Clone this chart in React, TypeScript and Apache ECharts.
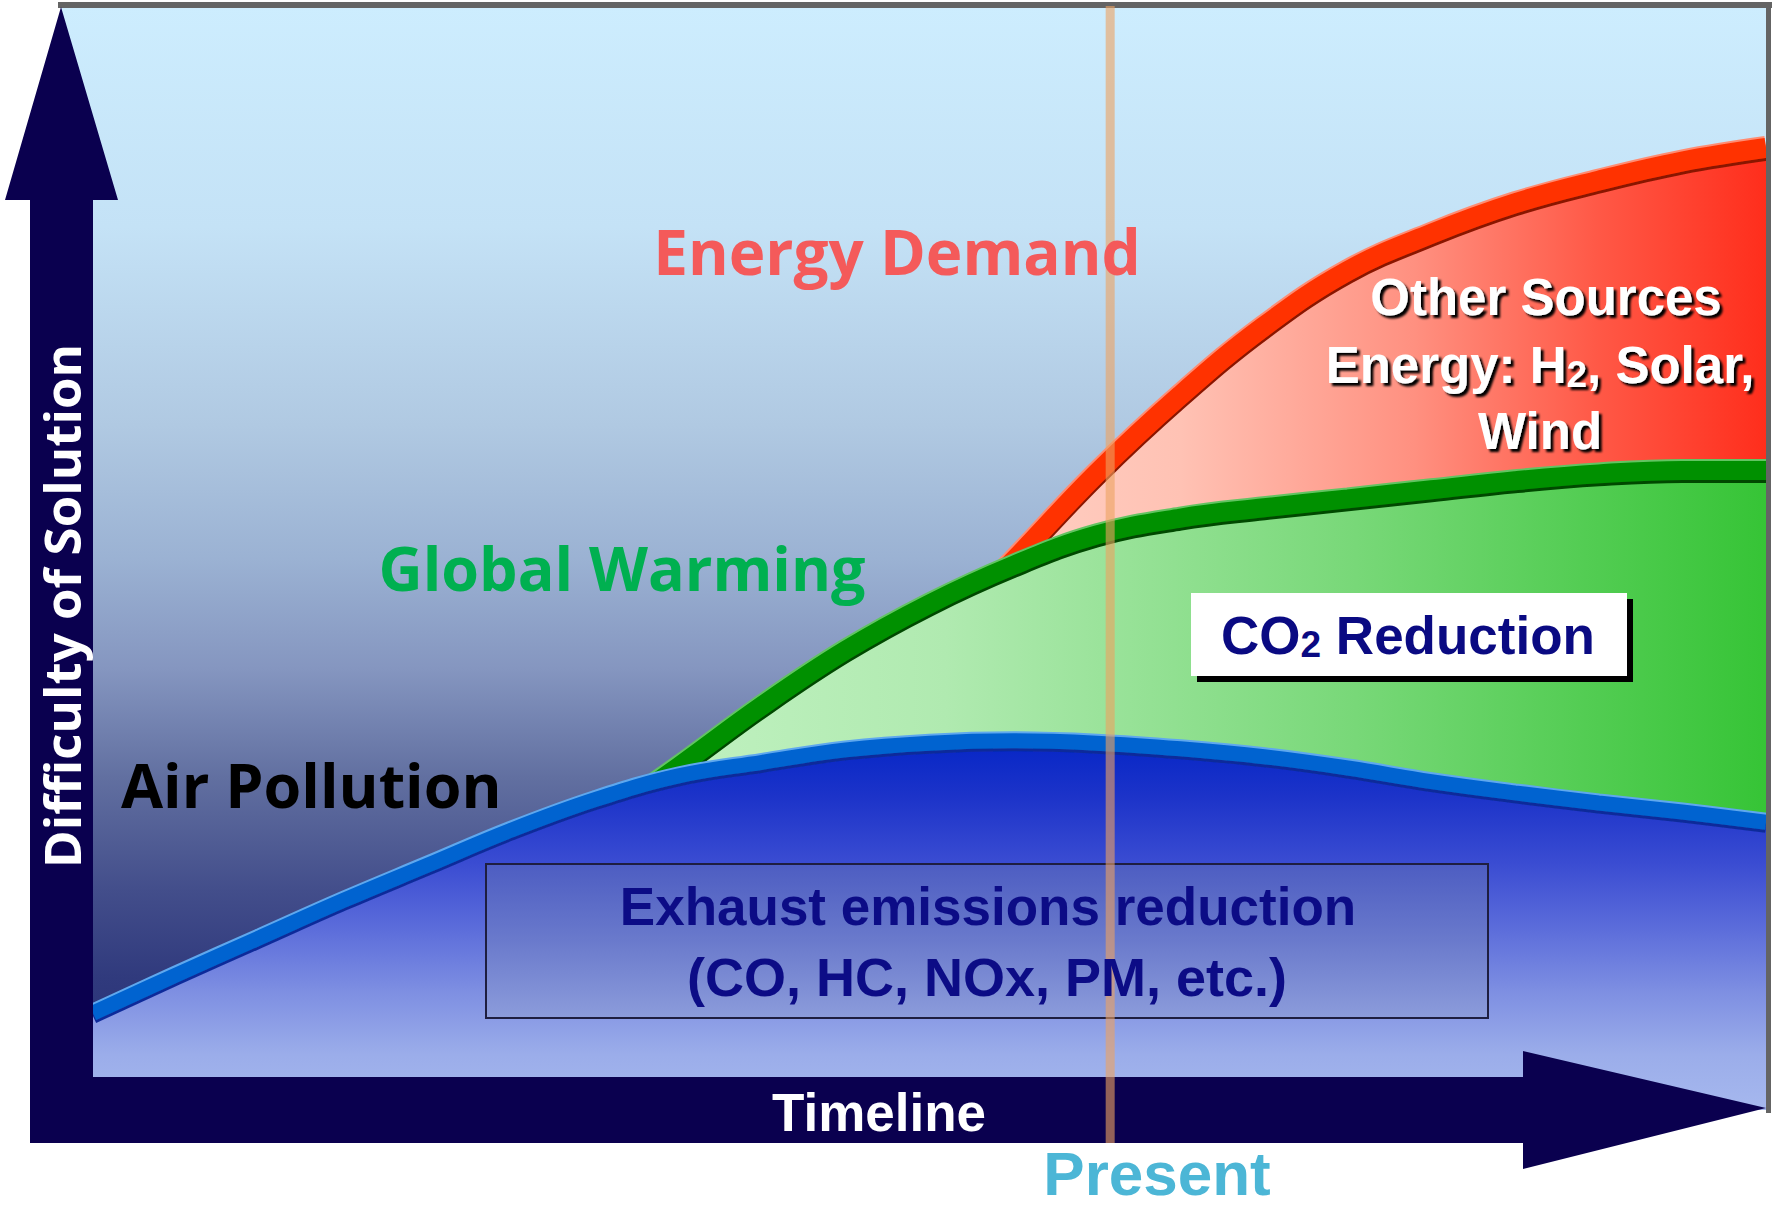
import React, { useEffect, useRef } from "react";
import * as echarts from "echarts";

// ---- data (timeline position 0..100, difficulty 0..100) ----
const airTimeline = [0, 5, 10, 15, 20, 25, 30, 35, 40, 45, 50, 55, 60, 65, 70, 75, 80, 85, 90, 95, 100];
const airPollution = [8.77, 12.25, 15.63, 19.0, 22.18, 25.35, 28.11, 30.26, 31.49, 32.62, 33.23, 33.44, 33.23, 32.72, 32.0, 30.98, 29.75, 28.73, 27.81, 26.99, 26.07];

const warmingTimeline = [30, 35, 40, 45, 50, 55, 60, 65, 70, 75, 80, 85, 90, 95, 100];
const globalWarming = [25.8, 31.1, 36.63, 41.65, 45.84, 49.32, 52.09, 53.62, 54.55, 55.36, 56.18, 57.0, 57.62, 57.93, 57.93];

const energyTimeline = [50, 55, 60, 65, 70, 75, 80, 85, 90, 95, 100];
const energyDemand = [42.0, 49.7, 57.67, 64.74, 70.98, 76.0, 79.37, 82.13, 84.18, 85.92, 87.15];

const presentT = 60.8;

const labels = {
  energy: "Energy Demand",
  warming: "Global Warming",
  air: "Air Pollution",
  yAxis: "Difficulty of Solution",
  xAxis: "Timeline",
  present: "Present",
  other1: "Other Sources",
  other2: "{a|Energy: H}{b|2}{a|, Solar,}",
  other3: "Wind",
  co2: "{a|CO}{b|2}{a| Reduction}",
  exhaust1: "Exhaust emissions reduction",
  exhaust2: "(CO, HC, NOx, PM, etc.)",
};

const OPEN = "'Open Sans', 'DejaVu Sans', sans-serif";
const ARIAL = "'Liberation Sans', Arial, sans-serif";
const NAVY = "#0a004f";

function pairs(xs: number[], ys: number[]) {
  return xs.map((x, i) => [x, ys[i]]);
}

function bandSeries(
  name: string,
  data: number[][],
  edge: string,
  band: string,
  dark: string,
  width: number,
  fill: any,
  z: number
) {
  return [
    {
      type: "line",
      name: name + " edge",
      data,
      smooth: 0.4,
      symbol: "none",
      silent: true,
      lineStyle: { width: width + 4, color: edge },
      z,
    },
    {
      type: "line",
      name,
      data,
      smooth: 0.4,
      symbol: "none",
      silent: true,
      lineStyle: { width, color: band, shadowColor: dark, shadowOffsetY: 3, shadowBlur: 0 },
      areaStyle: { color: fill, opacity: 1 },
      z: z + 1,
    },
  ];
}

function txt(id: string, x: number, y: number, text: string, size: number, family: string, fill: string, extra: any = {}) {
  return {
    id,
    type: "text",
    x,
    y,
    z: 30,
    rotation: extra.rotation || 0,
    style: {
      text,
      fill,
      fontSize: size,
      fontWeight: "bold",
      fontFamily: family,
      textAlign: extra.align || "center",
      align: extra.align || "center",
      textVerticalAlign: "middle",
      verticalAlign: "middle",
      ...(extra.style || {}),
    },
  };
}

export default function App() {
  const ref = useRef<HTMLDivElement>(null);

  useEffect(() => {
    if (!ref.current) return;
    const chart = echarts.init(ref.current, undefined, { renderer: "svg" });
    const G = echarts.graphic.LinearGradient;

    const redFill = new G(0, 0, 1, 0, [
      { offset: 0, color: "#ffd4c8" },
      { offset: 0.3, color: "#ffc2b4" },
      { offset: 0.58, color: "#ff9080" },
      { offset: 0.8, color: "#ff5846" },
      { offset: 1, color: "#ff2e1c" },
    ]);
    const greenFill = new G(0, 0, 1, 0, [
      { offset: 0, color: "#c4f3c4" },
      { offset: 0.3, color: "#b0eab0" },
      { offset: 0.65, color: "#78d878" },
      { offset: 1, color: "#36c436" },
    ]);
    const blueFill = new G(0, 0, 0, 1, [
      { offset: 0, color: "#0626c6" },
      { offset: 0.15, color: "#1c33c9" },
      { offset: 0.33, color: "#3a4cd2" },
      { offset: 0.5, color: "#5a6bda" },
      { offset: 0.68, color: "#7e8fe2" },
      { offset: 0.85, color: "#9badea" },
      { offset: 1, color: "#a6b8ee" },
    ]);
    const bgFill = new G(0, 0, 0, 1, [
      { offset: 0, color: "#cdedfe" },
      { offset: 0.2, color: "#c4e2f6" },
      { offset: 0.38, color: "#b0c9e2" },
      { offset: 0.5, color: "#9bb2d3" },
      { offset: 0.6, color: "#8596c0" },
      { offset: 0.7, color: "#616fa0" },
      { offset: 0.8, color: "#434e8b" },
      { offset: 0.88, color: "#303a7d" },
      { offset: 1, color: "#232b70" },
    ]);
    const boxFill = new G(0, 0, 0, 1, [
      { offset: 0, color: "#4d5dc2" },
      { offset: 0.5, color: "#6a7acc" },
      { offset: 1, color: "#8c9cdb" },
    ]);

    const shadowStyle = { textShadowColor: "#000", textShadowBlur: 2, textShadowOffsetX: 3, textShadowOffsetY: 3 };

    const baseGraphics: any[] = [
      { id: "bg", type: "rect", z: 0, shape: { x: 61, y: 6, width: 1705, height: 1104 }, style: { fill: bgFill } },
      { id: "topLine", type: "rect", z: 20, shape: { x: 58, y: 2, width: 1714, height: 6 }, style: { fill: "#646464" } },
      { id: "rightLine", type: "rect", z: 20, shape: { x: 1766, y: 2, width: 5, height: 1111 }, style: { fill: "#646464" } },
      {
        id: "yArrow",
        type: "polygon",
        z: 20,
        shape: { points: [[30, 1143], [30, 200], [5, 200], [61, 7], [118, 200], [93, 200], [93, 1143]] },
        style: { fill: NAVY },
      },
      {
        id: "xArrow",
        type: "polygon",
        z: 20,
        shape: { points: [[30, 1077], [1523, 1077], [1523, 1051], [1766, 1108], [1523, 1169], [1523, 1143], [30, 1143]] },
        style: { fill: NAVY },
      },
      { id: "co2Shadow", type: "rect", z: 21, shape: { x: 1197, y: 599, width: 436, height: 83 }, style: { fill: "#000" } },
      { id: "co2Box", type: "rect", z: 22, shape: { x: 1191, y: 593, width: 436, height: 83 }, style: { fill: "#ffffff" } },
      {
        id: "exBox",
        type: "rect",
        z: 21,
        shape: { x: 486, y: 864, width: 1002, height: 154 },
        style: { fill: boxFill, stroke: "#1e1e40", lineWidth: 2 },
      },
      txt("energy", 897, 251, labels.energy, 62, OPEN, "#f45a5a"),
      txt("warming", 622, 567, labels.warming, 61, OPEN, "#00b050"),
      txt("air", 121, 784, labels.air, 61, OPEN, "#000000", { align: "left" }),
      txt("yLabel", 61, 606, labels.yAxis, 51, OPEN, "#ffffff", { rotation: Math.PI / 2 }),
      txt("xLabel", 879, 1112, labels.xAxis, 53, ARIAL, "#ffffff"),
      txt("present", 1157, 1173, labels.present, 62, ARIAL, "#4cb6d6"),
      txt("other1", 1546, 297, labels.other1, 51, ARIAL, "#ffffff", { style: shadowStyle }),
      {
        id: "other2",
        type: "text",
        x: 1540,
        y: 365,
        z: 30,
        style: {
          text: labels.other2,
          textAlign: "center",
          align: "center",
          textVerticalAlign: "middle",
          verticalAlign: "middle",
          ...shadowStyle,
          rich: {
            a: { fontSize: 51, fontWeight: "bold", fontFamily: ARIAL, fill: "#ffffff", lineHeight: 56, ...shadowStyle },
            b: { fontSize: 37, fontWeight: "bold", fontFamily: ARIAL, fill: "#ffffff", lineHeight: 8, verticalAlign: "bottom", ...shadowStyle },
          },
        },
      },
      txt("other3", 1540, 431, labels.other3, 51, ARIAL, "#ffffff", { style: shadowStyle }),
      {
        id: "co2",
        type: "text",
        x: 1408,
        y: 635,
        z: 30,
        style: {
          text: labels.co2,
          textAlign: "center",
          align: "center",
          textVerticalAlign: "middle",
          verticalAlign: "middle",
          rich: {
            a: { fontSize: 53, fontWeight: "bold", fontFamily: ARIAL, fill: "#0a0a82", lineHeight: 56 },
            b: { fontSize: 37, fontWeight: "bold", fontFamily: ARIAL, fill: "#0a0a82", lineHeight: 8, verticalAlign: "bottom" },
          },
        },
      },
      txt("ex1", 988, 906, labels.exhaust1, 53, ARIAL, "#0c0c86"),
      txt("ex2", 987, 977, labels.exhaust2, 54, ARIAL, "#0c0c86"),
    ];

    const option: any = {
      animation: false,
      backgroundColor: "#ffffff",
      grid: { left: 93, right: 6, top: 6, bottom: 98, containLabel: false },
      xAxis: { type: "value", min: 0, max: 100, show: false },
      yAxis: { type: "value", min: 0, max: 100, show: false },
      series: [
        ...bandSeries("Energy Demand", pairs(energyTimeline, energyDemand), "#ff8c72", "#ff3300", "#8a1800", 20, redFill, 2),
        ...bandSeries("Global Warming", pairs(warmingTimeline, globalWarming), "#62c462", "#009000", "#004a00", 19, greenFill, 4),
        ...bandSeries("Air Pollution", pairs(airTimeline, airPollution), "#5fa8ee", "#0064d0", "#0a2a9a", 15, blueFill, 6),
      ],
      graphic: { elements: baseGraphics },
    };
    chart.setOption(option);

    const px = chart.convertToPixel({ xAxisIndex: 0 }, presentT) as number;
    chart.setOption({
      graphic: {
        elements: [
          ...baseGraphics,
          {
            id: "presentLine",
            type: "rect",
            z: 25,
            shape: { x: px - 4.5, y: 6, width: 9, height: 1137 },
            style: { fill: "rgba(236,162,96,0.6)" },
          },
        ],
      },
    });

    return () => chart.dispose();
  }, []);

  return (
    <div
      ref={ref}
      style={{ position: "fixed", left: 0, top: 0, width: 1772, height: 1208, background: "#fff" }}
    />
  );
}
